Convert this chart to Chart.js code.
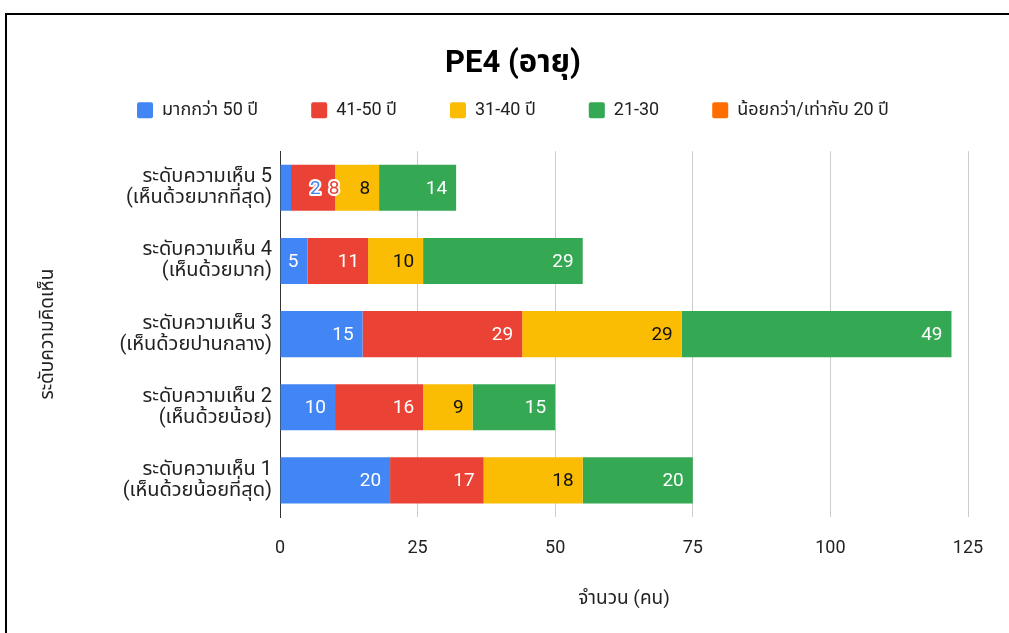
<!DOCTYPE html>
<html>
<head>
<meta charset="utf-8">
<script src="https://cdn.jsdelivr.net/npm/chart.js@4"></script>
<style>
  html, body { margin: 0; padding: 0; background: #fff; }
  #wrap { position: relative; width: 1009px; height: 633px; overflow: hidden; }
  #frame {
    position: absolute; left: 5px; top: 13px; right: -4px; bottom: -4px;
    border-top: 2px solid #000; border-left: 2px solid #000;
  }
  #chart { position: absolute; left: 0; top: 0; }
</style>
</head>
<body>
<div id="wrap">
  <div id="frame"></div>
  <canvas id="chart" width="1009" height="633"></canvas>
</div>
<script>
// หมวดระดับความคิดเห็น (บนลงล่าง)
const categories = [
    ['ระดับความเห็น 5', '(เห็นด้วยมากที่สุด)'],
    ['ระดับความเห็น 4', '(เห็นด้วยมาก)'],
    ['ระดับความเห็น 3', '(เห็นด้วยปานกลาง)'],
    ['ระดับความเห็น 2', '(เห็นด้วยน้อย)'],
    ['ระดับความเห็น 1', '(เห็นด้วยน้อยที่สุด)']
];

// จำนวนคนแต่ละช่วงอายุ
const over50 = [2, 5, 15, 10, 20];
const age41to50 = [8, 11, 29, 16, 17];
const age31to40 = [8, 10, 29, 9, 18];
const age21to30 = [14, 29, 49, 15, 20];
const under20 = [0, 0, 0, 0, 0];

const xTicks = [0, 25, 50, 75, 100, 125];

const FONT = "Roboto, 'Noto Sans', 'Noto Sans Thai', sans-serif";

const colors = {
    blue: '#4285F4',
    red: '#EA4335',
    yellow: '#FBBC04',
    green: '#34A853',
    orange: '#FF6D01'
};

// ป้ายตัวเลขในแท่ง ชิดขวาของแต่ละช่วง
const barLabels = {
    id: 'barLabels',
    afterDatasetsDraw(chart) {
        const ctx = chart.ctx;
        ctx.save();
        ctx.font = '19px ' + FONT;
        ctx.textBaseline = 'middle';
        ctx.textAlign = 'center';
        chart.data.labels.forEach((_, i) => {
            const segs = [];
            chart.data.datasets.forEach((ds, d) => {
                const meta = chart.getDatasetMeta(d);
                if (meta.hidden) return;
                const v = ds.data[i];
                if (!v) return;
                const el = meta.data[i];
                const txt = String(v);
                const w = ctx.measureText(txt).width;
                const x0 = Math.min(el.base, el.x);
                const x1 = Math.max(el.base, el.x);
                segs.push({ txt, w, x0, x1, y: el.y, color: ds.backgroundColor,
                    textColor: ds.labelColor, fits: (x1 - x0) >= w + 10, cx: x1 - 9 - w / 2, halo: false });
            });
            // ช่วงที่แคบเกินไป ย้ายป้ายไปไว้ข้างป้ายถัดไปแบบมีขอบขาว
            segs.forEach((s, k) => {
                if (s.fits) return;
                const next = segs[k + 1];
                s.halo = true;
                if (next) {
                    next.halo = true;
                    next.cx = next.x1 - 1;
                    s.cx = next.cx - (next.w / 2 + 8 + s.w / 2);
                } else {
                    s.cx = s.x1 + 6 + s.w / 2;
                }
            });
            segs.forEach(s => {
                if (s.halo) {
                    ctx.lineWidth = 4;
                    ctx.lineJoin = 'round';
                    ctx.strokeStyle = '#fff';
                    ctx.strokeText(s.txt, s.cx, s.y + 1);
                    ctx.fillStyle = s.color;
                } else {
                    ctx.fillStyle = s.textColor;
                }
                ctx.fillText(s.txt, s.cx, s.y + 1);
            });
        });
        ctx.restore();
    }
};

// เว้นที่ใต้คำอธิบายสัญลักษณ์
const legendSpace = {
    id: 'legendSpace',
    afterInit(chart) {
        const lg = chart.legend;
        if (!lg || lg._spaced) return;
        const fit = lg.fit;
        lg.fit = function () {
            fit.call(this);
            this.height += 22;
        };
        lg._spaced = true;
    }
};

new Chart(document.getElementById('chart'), {
    type: 'bar',
    data: {
        labels: categories,
        datasets: [
            { label: 'มากกว่า 50 ปี', data: over50, backgroundColor: colors.blue, labelColor: '#fff' },
            { label: '41-50 ปี', data: age41to50, backgroundColor: colors.red, labelColor: '#fff' },
            { label: '31-40 ปี', data: age31to40, backgroundColor: colors.yellow, labelColor: '#111' },
            { label: '21-30', data: age21to30, backgroundColor: colors.green, labelColor: '#fff' },
            { label: 'น้อยกว่า/เท่ากับ 20 ปี', data: under20, backgroundColor: colors.orange, labelColor: '#fff' }
        ]
    },
    options: {
        indexAxis: 'y',
        responsive: false,
        animation: false,
        categoryPercentage: 1,
        barPercentage: 0.63,
        layout: { padding: { left: 20, right: 3, top: 46, bottom: 22 } },
        plugins: {
            title: {
                display: true,
                text: 'PE4 (อายุ)',
                color: '#000',
                font: { family: FONT, size: 31, weight: 'bold' },
                padding: { top: 0, bottom: -35 }
            },
            legend: {
                position: 'top',
                labels: {
                    color: '#222',
                    font: { family: FONT, size: 18 },
                    boxWidth: 16,
                    boxHeight: 16,
                    useBorderRadius: true,
                    borderRadius: 2,
                    padding: 53
                }
            },
            tooltip: { enabled: false }
        },
        scales: {
            x: {
                stacked: true,
                min: 0,
                max: 125,
                afterBuildTicks(scale) {
                    scale.ticks = xTicks.map(v => ({ value: v }));
                },
                afterFit(scale) {
                    scale.paddingRight = 41;
                    scale.height = 94;
                },
                ticks: {
                    color: '#222',
                    font: { family: FONT, size: 18 },
                    padding: 21
                },
                grid: {
                    drawTicks: false,
                    color: ctx => ctx.index === 0 ? 'rgba(0,0,0,0)' : '#cccccc'
                },
                border: { display: false },
                title: {
                    display: true,
                    text: 'จำนวน (คน)',
                    color: '#222',
                    font: { family: FONT, size: 19 },
                    padding: { top: 29, bottom: 0 }
                }
            },
            y: {
                stacked: true,
                afterFit(scale) {
                    scale.width = 260;
                    scale.paddingTop = 0;
                    scale.paddingBottom = 0;
                },
                ticks: {
                    color: '#222',
                    font: { family: FONT, size: 20, lineHeight: 1.05 },
                    padding: 8
                },
                grid: { display: false, drawTicks: false },
                border: { display: true, color: '#333', width: 1 },
                title: {
                    display: true,
                    text: 'ระดับความคิดเห็น',
                    color: '#222',
                    font: { family: FONT, size: 19 },
                    padding: { top: 17, bottom: 0 }
                }
            }
        }
    },
    plugins: [barLabels, legendSpace]
});
</script>
</body>
</html>
